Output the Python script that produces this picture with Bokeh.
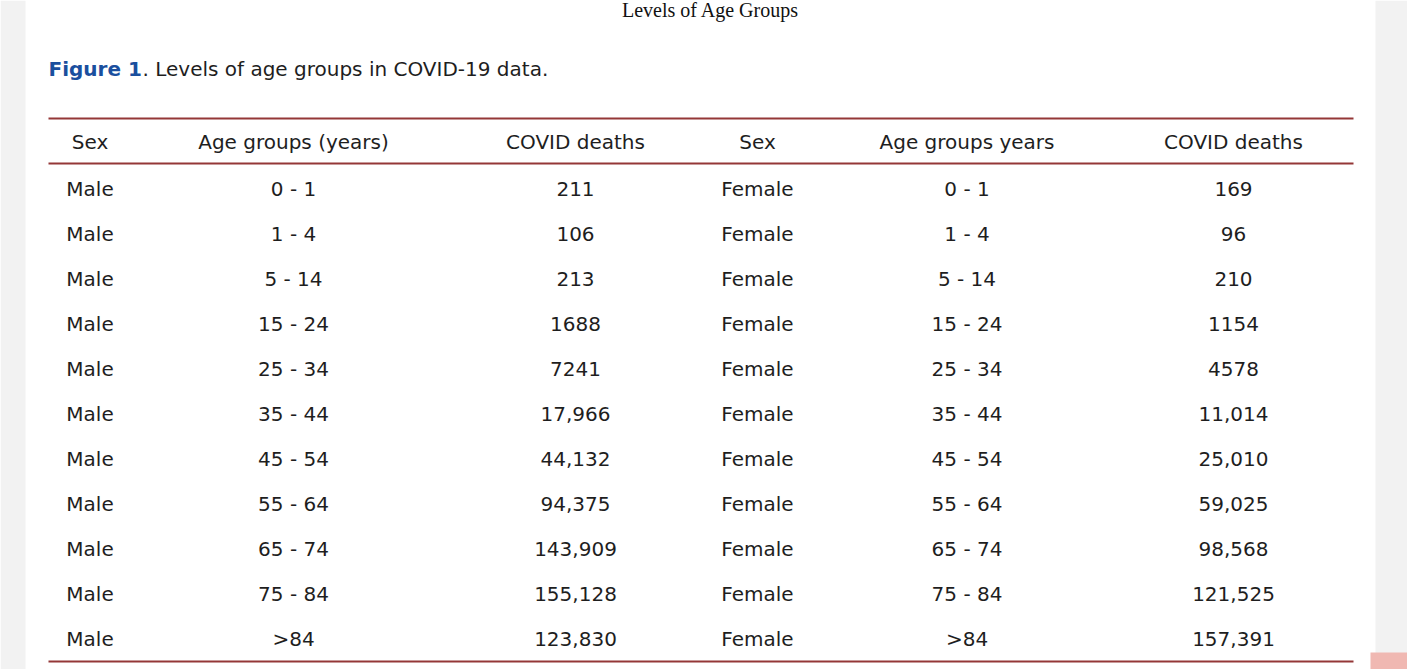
from bokeh.plotting import figure
from bokeh.models import Range1d, ColumnDataSource
from bokeh.core.properties import value
from bokeh.embed import file_html
from bokeh.resources import INLINE

# ---------------- data ----------------
title_text = "Levels of Age Groups"
caption_bold = "Figure 1"
caption_rest = ". Levels of age groups in COVID-19 data."
headers = ["Sex", "Age groups (years)", "COVID deaths", "Sex", "Age groups years", "COVID deaths"]
age_groups = ["0 - 1", "1 - 4", "5 - 14", "15 - 24", "25 - 34", "35 - 44",
              "45 - 54", "55 - 64", "65 - 74", "75 - 84", ">84"]
male_deaths = [211, 106, 213, 1688, 7241, 17966, 44132, 94375, 143909, 155128, 123830]
female_deaths = [169, 96, 210, 1154, 4578, 11014, 25010, 59025, 98568, 121525, 157391]


def fmt(v):
    return f"{v:,}" if v >= 10000 else str(v)


# ---------------- layout ----------------
W, H = 1407, 669
TY = -9  # text vertical adjustment

p = figure(width=W, height=H, x_range=Range1d(0, W), y_range=Range1d(H, 0),
           output_backend="svg", toolbar_location=None, min_border=0)
p.axis.visible = False
p.grid.visible = False
p.outline_line_color = None
p.background_fill_color = "white"
p.border_fill_color = "white"

gray = "#f2f2f2"
# page side margins
p.quad(left=0, right=25, top=0, bottom=H, fill_color=gray, line_color=None)
p.quad(left=1375, right=W, top=0, bottom=H, fill_color=gray, line_color=None)
p.quad(left=1370, right=W, top=652, bottom=H, fill_color="#f0b8b2", line_color=None)

font = value("DejaVu Sans")
txt = "#1e1e1e"

# title (serif, at top)
p.text(x=[710], y=[18 + TY], text=[title_text], text_font=value("Liberation Serif"),
       text_font_size="20px", text_align="center", text_baseline="alphabetic",
       text_color="#111111")

# caption
p.text(x=[48], y=[77 + TY], text=[caption_bold], text_font=font, text_font_style="bold",
       text_font_size="20px", text_align="left", text_baseline="alphabetic", text_color="#1a4f9e")
p.text(x=[142], y=[77 + TY], text=[caption_rest], text_font=font,
       text_font_size="20px", text_align="left", text_baseline="alphabetic", text_color=txt)

# table rules
rule = "#943737"
for yy in (118, 163, 661):
    p.line(x=[48, 1353], y=[yy, yy], line_color=rule, line_width=2)

col_x = [89.5, 293, 575, 757, 966.5, 1233]

# header
p.text(x=col_x, y=[150 + TY] * 6, text=headers, text_font=font, text_font_size="20px",
       text_align="center", text_baseline="alphabetic", text_color=txt)

# body
n = len(age_groups)
row_y = [197 + TY + 45 * i for i in range(n)]
cols = [
    ["Male"] * n,
    age_groups,
    [fmt(v) for v in male_deaths],
    ["Female"] * n,
    age_groups,
    [fmt(v) for v in female_deaths],
]
xs, ys, ts = [], [], []
for cx, col in zip(col_x, cols):
    for yy, t in zip(row_y, col):
        xs.append(cx)
        ys.append(yy)
        ts.append(t)
src = ColumnDataSource(dict(x=xs, y=ys, t=ts))
p.text(x="x", y="y", text="t", source=src, text_font=font, text_font_size="20px",
       text_align="center", text_baseline="alphabetic", text_color=txt)

open("out.html", "w").write(file_html(p, INLINE))
